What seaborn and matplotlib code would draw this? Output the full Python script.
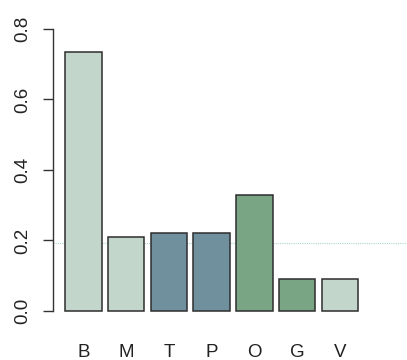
import matplotlib
matplotlib.use("Agg")
import matplotlib.pyplot as plt
import seaborn as sns
import pandas as pd

# bar heights
labels = ["B", "M", "T", "P", "O", "G", "V"]
values = [0.735, 0.21, 0.22, 0.22, 0.33, 0.09, 0.09]
colors = ["#c3d6cb", "#c3d6cb", "#70909d", "#70909d", "#79a585", "#79a585", "#c3d6cb"]
yticks = [0.0, 0.2, 0.4, 0.6, 0.8]

sns.set_style("white")
plt.rcParams["font.family"] = ["Liberation Sans", "DejaVu Sans"]

df = pd.DataFrame({"label": labels, "value": values})

fig = plt.figure(figsize=(4.07, 3.6), dpi=100)
ax = fig.add_axes([0.1302, 0.1167, 0.8034, 0.8225])

sns.barplot(data=df, x="label", y="value", hue="label", palette=colors,
            order=labels, hue_order=labels, legend=False, width=0.854,
            edgecolor="#2e2e2e", linewidth=1.1, saturation=1, ax=ax)

# faint stray line seen in the reference
ax.axhline(0.193, xmin=0, xmax=1.1, color="#a9d9d1", lw=0.8, ls=(0, (1, 1)), clip_on=False, zorder=0)

ax.set_xlim(-0.713, 6.936)
ax.set_ylim(-0.02, 0.82)
ax.set_yticks(yticks)
ax.set_yticklabels([f"{t:.1f}" for t in yticks], rotation=90, va="center", fontsize=13.5, color="#222222")
ax.tick_params(axis="y", length=7.2, width=1.0, color="#333333", pad=8.5, left=True)
ax.tick_params(axis="x", length=0, pad=18.5, labelsize=13.5, labelcolor="#222222")
ax.set_xlabel("")
ax.set_ylabel("")

for s in ["top", "right", "bottom"]:
    ax.spines[s].set_visible(False)
ax.spines["left"].set_bounds(0, 0.8)
ax.spines["left"].set_color("#333333")
ax.spines["left"].set_linewidth(1.0)

fig.savefig("out.png", dpi=100)
